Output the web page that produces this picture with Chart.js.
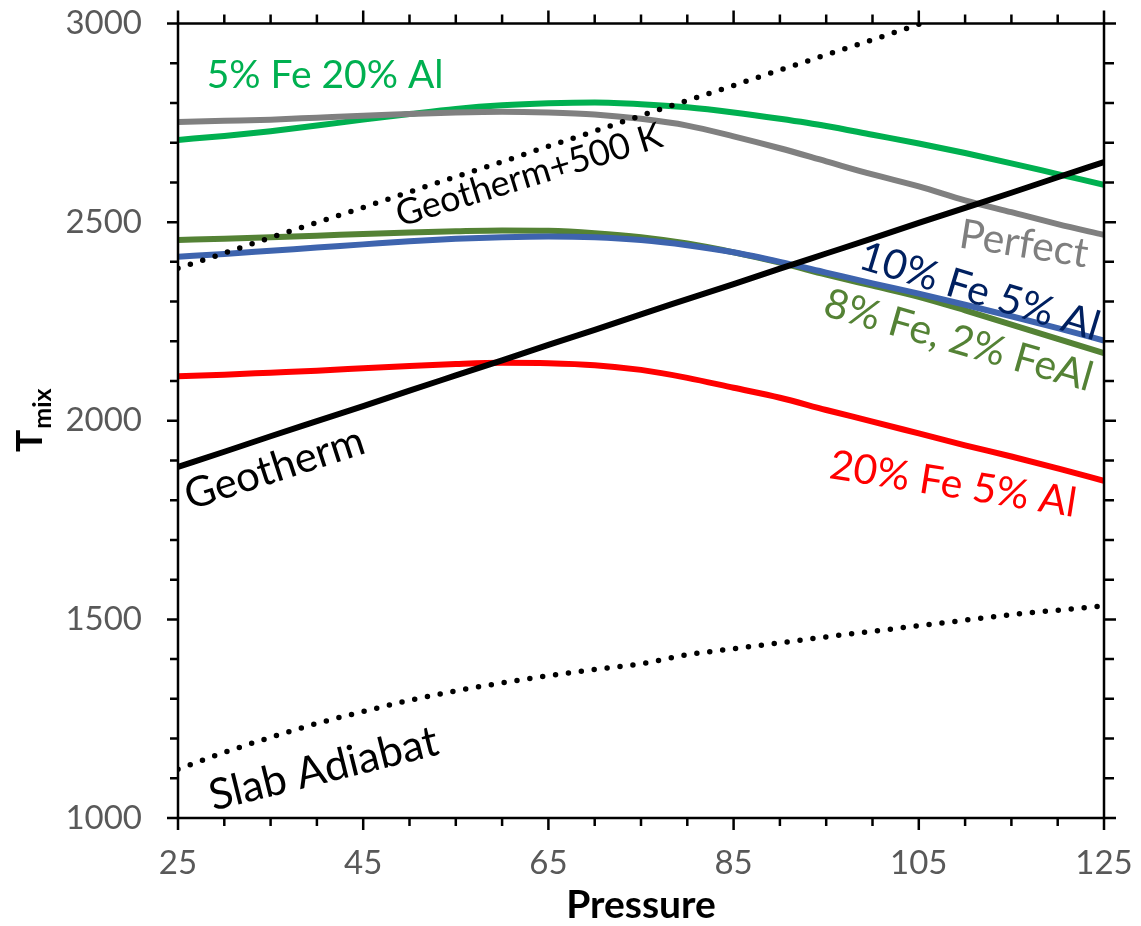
<!DOCTYPE html>
<html>
<head>
<meta charset="utf-8">
<script src="https://cdn.jsdelivr.net/npm/chart.js@4"></script>
<style>
  html, body { margin: 0; background: #fff; }
  #wrap { width: 1141px; height: 926px; }
</style>
</head>
<body>
<div id="wrap"><canvas id="chart"></canvas></div>
<script>
// pressure grid (GPa) and mixing temperatures (K)
const pressure = [25, 30, 35, 40, 45, 50, 55, 60, 65, 70, 75, 80, 85, 90, 95, 100, 105, 110, 115, 120, 125];

const perfect = [2752, 2755, 2758, 2763, 2768, 2772, 2776, 2778, 2776, 2771, 2760, 2743, 2716, 2686, 2653, 2620, 2590, 2555, 2525, 2495, 2468];
const fe5al20 = [2707, 2717, 2729, 2743, 2758, 2772, 2785, 2794, 2799, 2801, 2797, 2789, 2776, 2760, 2742, 2720, 2698, 2674, 2648, 2621, 2594];
const fe10al5 = [2413, 2420, 2428, 2436, 2444, 2452, 2458, 2462, 2464, 2462, 2455, 2442, 2424, 2400, 2373, 2346, 2320, 2292, 2263, 2233, 2202];
const fe8feal2 = [2455, 2458, 2462, 2466, 2470, 2474, 2477, 2479, 2478, 2472, 2462, 2446, 2424, 2398, 2368, 2340, 2312, 2278, 2242, 2206, 2170];
const fe20al5 = [2112, 2116, 2121, 2126, 2132, 2138, 2143, 2146, 2145, 2140, 2128, 2108, 2083, 2058, 2027, 1998, 1968, 1938, 1910, 1880, 1849];
const geotherm = [1884, 1922, 1961, 1999, 2037, 2076, 2114, 2152, 2191, 2229, 2268, 2306, 2344, 2383, 2421, 2459, 2498, 2536, 2574, 2613, 2651];
const geothermHot = [2384, 2422, 2461, 2499, 2537, 2576, 2614, 2652, 2691, 2729, 2768, 2806, 2844, 2883, 2921, 2959, 2998, 3036, null, null, null];
const slabAdiabat = [1123, 1165, 1203, 1238, 1268, 1296, 1320, 1340, 1358, 1374, 1388, 1411, 1426, 1441, 1456, 1470, 1484, 1498, 1512, 1523, 1534];

const xTicks = [25, 45, 65, 85, 105, 125];
const yTicks = [1000, 1500, 2000, 2500, 3000];

const FONT = 'Lato, "Open Sans", sans-serif';

const pts = (arr) => pressure.map((p, i) => ({ x: p, y: arr[i] }));

const solid = (data, color) => ({
  data: pts(data),
  borderColor: color,
  borderWidth: 6,
  pointRadius: 0,
  cubicInterpolationMode: 'monotone',
  borderCapStyle: 'butt'
});

const dotted = (data) => ({
  data: pts(data),
  borderColor: '#000',
  borderWidth: 5.5,
  borderDash: [0, 13],
  borderCapStyle: 'round',
  pointRadius: 0,
  cubicInterpolationMode: 'monotone',
  spanGaps: false
});

// curve labels, anchored at baseline-left in data units
const curveLabels = [
  { text: '5% Fe 20% Al', x: 28.1, y: 2838, angle: 0, color: '#00b050', size: 39 },
  { text: 'Geotherm+500 K', x: 49.0, y: 2488, angle: -17, color: '#000', size: 36 },
  { text: 'Geotherm', x: 26.3, y: 1775, angle: -18, color: '#000', size: 42 },
  { text: 'Slab Adiabat', x: 28.8, y: 1018, angle: -14, color: '#000', size: 43 },
  { text: 'Perfect', x: 109.2, y: 2437, angle: 9, color: '#7f7f7f', size: 41 },
  { text: '10% Fe 5% Al', x: 98.3, y: 2385, angle: 17, color: '#002060', size: 41 },
  { text: '8% Fe, 2% FeAl', x: 94.5, y: 2266, angle: 16, color: '#548235', size: 41 },
  { text: '20% Fe 5% Al', x: 95.2, y: 1856, angle: 9, color: '#ff0000', size: 41 }
];

const labelPlugin = {
  id: 'curveLabels',
  afterDatasetsDraw(chart) {
    const { ctx, scales: { x, y } } = chart;
    ctx.save();
    ctx.textBaseline = 'alphabetic';
    ctx.textAlign = 'left';
    curveLabels.forEach((l) => {
      ctx.save();
      ctx.font = `${l.size}px ${FONT}`;
      ctx.translate(x.getPixelForValue(l.x), y.getPixelForValue(l.y));
      ctx.rotate(l.angle * Math.PI / 180);
      ctx.fillStyle = l.color;
      ctx.fillText(l.text, 0, 0);
      ctx.restore();
    });
    ctx.restore();
  }
};

// box frame, outward ticks on all four sides, axis titles
const framePlugin = {
  id: 'frame',
  afterDraw(chart) {
    const { ctx, chartArea: a, scales: { x, y } } = chart;
    ctx.save();
    ctx.strokeStyle = '#000';
    ctx.lineWidth = 2.5;
    ctx.strokeRect(a.left, a.top, a.right - a.left, a.bottom - a.top);
    ctx.beginPath();
    for (let v = x.min; v <= x.max; v += 5) {
      const px = x.getPixelForValue(v);
      const major = xTicks.includes(v);
      ctx.moveTo(px, a.bottom);
      ctx.lineTo(px, a.bottom + (major ? 12 : 8));
      ctx.moveTo(px, a.top);
      ctx.lineTo(px, a.top - (major ? 13 : 9));
    }
    for (let v = y.min; v <= y.max; v += 100) {
      const py = y.getPixelForValue(v);
      const major = yTicks.includes(v);
      ctx.moveTo(a.left, py);
      ctx.lineTo(a.left - (major ? 11 : 8), py);
      ctx.moveTo(a.right, py);
      ctx.lineTo(a.right + (major ? 12 : 10), py);
    }
    ctx.stroke();

    ctx.fillStyle = '#000';
    ctx.font = `bold 39px ${FONT}`;
    ctx.textAlign = 'center';
    ctx.textBaseline = 'alphabetic';
    ctx.fillText('Pressure', 641, 918);

    ctx.translate(42, 452);
    ctx.rotate(-Math.PI / 2);
    ctx.textAlign = 'left';
    ctx.font = `bold 37px ${FONT}`;
    ctx.fillText('T', 0, 0);
    const tw = ctx.measureText('T').width;
    ctx.font = `bold 25px ${FONT}`;
    ctx.fillText('mix', tw + 1, 9);
    ctx.restore();
  }
};

new Chart(document.getElementById('chart'), {
  type: 'line',
  data: {
    datasets: [
      dotted(slabAdiabat),
      dotted(geothermHot),
      solid(geotherm, '#000'),
      solid(fe20al5, '#ff0000'),
      solid(fe10al5, '#3e64ae'),
      solid(fe8feal2, '#548235'),
      solid(perfect, '#808080'),
      solid(fe5al20, '#00b050')
    ]
  },
  options: {
    responsive: true,
    maintainAspectRatio: false,
    animation: false,
    layout: { padding: { top: 23.5, right: 37, left: 0, bottom: 0 } },
    plugins: { legend: { display: false }, tooltip: { enabled: false } },
    scales: {
      x: {
        type: 'linear',
        min: 25,
        max: 125,
        grid: { display: false, drawTicks: false },
        border: { display: false },
        afterBuildTicks: (scale) => { scale.ticks = xTicks.map((v) => ({ value: v })); },
        afterFit: (scale) => {
          scale.height = 108;
          scale.paddingLeft = 0;
          scale.paddingRight = 0;
        },
        ticks: { color: '#595959', font: { family: FONT, size: 33 }, padding: 26, maxRotation: 0 }
      },
      y: {
        type: 'linear',
        min: 1000,
        max: 3000,
        grid: { display: false, drawTicks: false },
        border: { display: false },
        afterBuildTicks: (scale) => { scale.ticks = yTicks.map((v) => ({ value: v })); },
        afterFit: (scale) => {
          scale.width = 178;
          scale.paddingTop = 0;
          scale.paddingBottom = 0;
        },
        ticks: {
          color: '#595959',
          font: { family: FONT, size: 33 },
          padding: 36,
          callback: (v) => String(v)
        }
      }
    }
  },
  plugins: [labelPlugin, framePlugin]
});
</script>
</body>
</html>
